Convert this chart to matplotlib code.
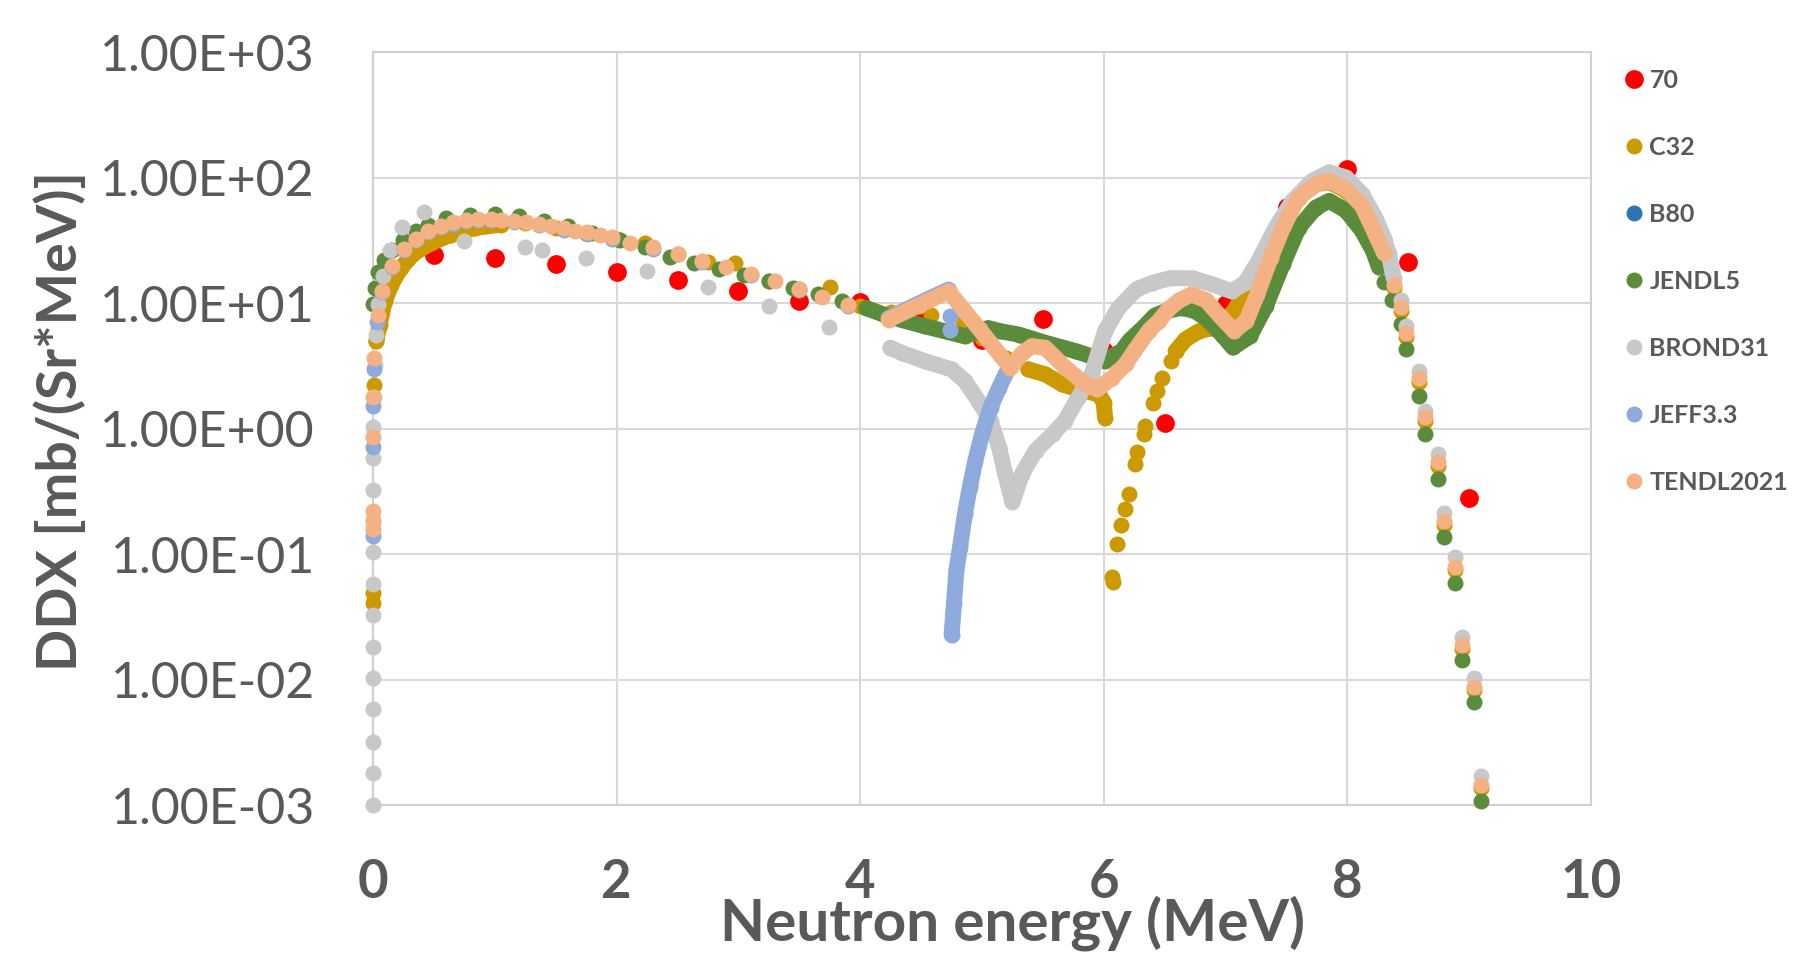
import matplotlib

matplotlib.use("Agg")

import matplotlib.pyplot as plt
from matplotlib.lines import Line2D
from matplotlib.ticker import FixedLocator, FuncFormatter, NullLocator

plt.rcParams["font.family"] = ["Lato", "DejaVu Sans"]

TEXT = "#595959"
GRID = "#D9D9D9"

# --- experimental points (70) ---
EXP_X = [0.5, 1.0, 1.5, 2.0, 2.5, 3.0, 3.5, 4.0, 4.5, 5.0, 5.5, 6.0, 6.5, 7.0, 7.5, 8.0, 8.5, 9.0]
EXP_Y = [24.2, 22.7, 20.4, 17.5, 15.2, 12.5, 10.3, 10.1, 8.5, 5.1, 7.5, 4.15, 1.1, 9.8, 57.7, 116.0, 21.3, 0.277]

# --- C32 ---
C32_X = [0.0, 0.0, 0.008, 1.25, 1.5, 1.75, 2.0, 2.23, 2.5, 2.75, 2.97, 3.25, 3.5, 3.75, 4.0,
         4.25, 4.58, 4.84, 5.0, 5.2, 6.068, 6.075, 6.11, 6.142, 6.178, 6.211, 6.26, 6.274,
         6.33, 6.342, 6.405, 6.438, 6.48, 6.548, 6.589]
C32_Y = [0.041, 0.049, 2.23, 43.7, 39.8, 35.9, 32.4, 30.3, 24.5, 21.4, 21.0, 15.1, 12.9, 13.3, 9.44,
         8.51, 8.07, 6.92, 5.25, 3.63, 0.0656, 0.060, 0.121, 0.169, 0.229, 0.301, 0.521, 0.646,
         0.902, 1.05, 1.61, 2.0, 2.54, 3.44, 4.13]
C32_LOW_X = [0.027, 0.055, 0.096, 0.15, 0.23, 0.34, 0.48, 0.64, 0.835, 1.05]
C32_LOW_Y = [4.94, 6.71, 10.3, 14.0, 19.1, 25.1, 30.1, 35.1, 39.6, 42.2]
C32_MID_X = [5.38, 5.52, 5.66, 5.79, 5.96, 6.0, 6.01]
C32_MID_Y = [2.96, 2.70, 2.25, 2.05, 1.87, 1.61, 1.22]
C32_HIGH_X = [6.589, 6.67, 6.78, 6.89, 7.0, 7.08, 7.16, 7.24, 7.35, 7.47, 7.6, 7.74, 7.85, 7.99,
              8.12, 8.23, 8.30]
C32_HIGH_Y = [4.13, 5.12, 5.96, 6.31, 7.24, 8.91, 12.6, 15.5, 25.1, 43.7, 69.2, 88.1, 92.3, 78.5,
              57.5, 34.3, 24.3]
C32_TAIL_X = [8.38, 8.44, 8.48, 8.59, 8.64, 8.74, 8.79, 8.88, 8.94, 9.04, 9.10]
C32_TAIL_Y = [13.1, 8.63, 5.37, 2.36, 1.15, 0.505, 0.17, 0.0741, 0.0176, 0.0082, 0.00136]

# --- B80 (no visible points) ---
B80_X = []
B80_Y = []

# --- JENDL5 ---
JENDL_X = [0.0, 0.02, 0.045, 0.09, 0.16, 0.25, 0.35, 0.45, 0.6, 0.8, 1.0, 1.2, 1.4, 1.6, 1.8,
           2.03, 2.233, 2.44, 2.637, 2.84, 3.05, 3.25, 3.45, 3.65, 3.85]
JENDL_Y = [9.77, 13.2, 17.8, 21.9, 26.3, 31.6, 37.2, 41.7, 47.3, 50.7, 51.3, 49.5, 45.2, 40.7, 36.3,
           31.6, 27.7, 23.3, 21.0, 18.8, 16.8, 14.9, 13.2, 11.8, 10.4]
JENDL_TRACE_X = [4.05, 4.23, 4.53, 4.86, 4.95, 5.05, 5.15, 5.30, 5.52, 5.77, 6.01, 6.15, 6.21, 6.32,
                 6.42, 6.51, 6.64, 6.75, 6.84, 6.97, 7.06, 7.20, 7.33, 7.47, 7.60, 7.74, 7.85, 7.99,
                 8.12, 8.21, 8.26]
JENDL_TRACE_Y = [9.12, 7.83, 6.53, 5.43, 5.89, 6.31, 5.96, 5.61, 4.82, 4.13, 3.47, 4.17, 5.01, 6.31,
                 7.94, 8.61, 9.18, 8.61, 7.53, 5.60, 4.42, 5.43, 9.44, 20.4, 39.8, 57.5, 65.2, 54.3,
                 37.7, 26.1, 19.2]
JENDL_TAIL_X = [8.30, 8.37, 8.44, 8.48, 8.59, 8.64, 8.74, 8.79, 8.88, 8.94, 9.04, 9.10]
JENDL_TAIL_Y = [14.6, 10.5, 6.81, 4.27, 1.83, 0.912, 0.398, 0.136, 0.0592, 0.0144, 0.00656, 0.00108]

# --- BROND31 ---
BROND_X = [0.0, 0.0, 0.0, 0.0, 0.0, 0.0, 0.0, 0.0, 0.0, 0.0, 0.0, 0.0, 0.0, 0.01, 0.02, 0.027,
           0.04, 0.082, 0.137, 0.24, 0.42, 0.75, 1.245, 1.39, 1.745, 2.25, 2.75, 3.25, 3.745]
BROND_Y = [0.001, 0.0018, 0.0032, 0.0058, 0.0103, 0.0182, 0.0325, 0.0574, 0.103, 0.18, 0.324, 0.58,
           1.02, 1.78, 3.2, 5.6, 9.8, 16.3, 26.6, 40.0, 53.0, 31.0, 27.8, 26.3, 22.8, 17.9, 13.5,
           9.5, 6.4]
BROND_TRACE_X = [4.247, 4.34, 4.53, 4.75, 4.86, 4.97, 5.07, 5.14, 5.19, 5.25, 5.33, 5.44, 5.58,
                 5.68, 5.79, 5.90, 6.01, 6.12, 6.27, 6.40, 6.55, 6.73, 6.89, 7.05, 7.16, 7.27, 7.41,
                 7.55, 7.71, 7.85, 7.99, 8.12, 8.23, 8.30, 8.34, 8.38]
BROND_TRACE_Y = [4.40, 4.01, 3.44, 2.96, 2.39, 1.66, 1.15, 0.708, 0.437, 0.259, 0.437, 0.665, 0.902,
                 1.15, 1.76, 2.70, 5.96, 9.12, 12.9, 14.5, 15.8, 15.7, 14.1, 12.4, 14.5, 21.6, 39.8,
                 65.2, 94.0, 110.0, 100.0, 73.6, 47.9, 33.1, 24.5, 15.8]
BROND_TAIL_X = [8.44, 8.48, 8.59, 8.64, 8.74, 8.79, 8.88, 8.94, 9.04, 9.10]
BROND_TAIL_Y = [10.5, 6.6, 2.86, 1.39, 0.631, 0.214, 0.0955, 0.0219, 0.0102, 0.0017]

# --- JEFF3.3 ---
JEFF_X = [0.0, 0.0, 0.003, 0.008, 0.035, 0.075, 0.16, 0.258, 0.35, 0.454, 0.557, 0.66, 0.76,
          0.865, 0.967, 1.157, 1.363, 1.568, 1.758, 1.963, 2.3, 2.705, 3.106, 3.5, 3.9, 4.74, 4.74]
JEFF_Y = [0.139, 0.71, 1.5, 3.0, 7.0, 12.2, 19.4, 26.3, 31.6, 36.8, 40.3, 42.9, 44.7,
          45.5, 45.5, 44.1, 41.6, 38.5, 35.7, 32.6, 27.1, 21.2, 16.6, 12.6, 9.5, 7.83, 6.14]
JEFF_HI_X = [4.233, 4.48, 4.726]
JEFF_HI_Y = [7.6, 9.9, 12.8]
JEFF_RISE_X = [4.75, 4.77, 4.79, 4.82, 4.86, 4.90, 4.945, 5.0, 5.07, 5.14, 5.22]
JEFF_RISE_Y = [0.0226, 0.0404, 0.0741, 0.114, 0.209, 0.340, 0.553, 0.902, 1.47, 2.11, 3.05]

# --- TENDL2021 ---
TENDL_X = [0.0, 0.0, 0.0, 0.0, 0.004, 0.012, 0.04, 0.075, 0.16, 0.258, 0.35, 0.454, 0.557, 0.66,
           0.76, 0.865, 0.967, 1.055, 1.157, 1.26, 1.363, 1.465, 1.568, 1.656, 1.758, 1.86, 1.963,
           2.11, 2.3, 2.505, 2.705, 2.9, 3.106, 3.297, 3.5, 3.69, 3.9]
TENDL_Y = [0.158, 0.186, 0.219, 0.86, 1.77, 3.63, 8.07, 12.5, 19.8, 26.9, 32.3, 37.6, 41.2, 43.8,
           45.7, 46.5, 46.5, 45.7, 45.1, 43.8, 42.5, 41.2, 39.4, 37.6, 36.5, 34.9, 33.3,
           30.3, 27.7, 24.5, 21.7, 19.5, 17.0, 15.0, 12.9, 11.1, 9.7]
TENDL_TRACE_X = [4.233, 4.48, 4.726, 4.98, 5.233, 5.33, 5.41, 5.52, 5.685, 5.85, 5.945, 6.07, 6.18,
                 6.26, 6.37, 6.45, 6.53, 6.62, 6.72, 6.84, 6.95, 7.07, 7.17, 7.26, 7.37, 7.48, 7.60,
                 7.74, 7.85, 7.99, 8.12, 8.23, 8.30]
TENDL_TRACE_Y = [7.38, 9.55, 12.4, 6.17, 3.05, 3.98, 4.53, 4.40, 3.05, 2.25, 2.05, 2.54, 3.27,
                 4.27, 6.03, 7.14, 8.91, 10.5, 11.7, 10.5, 7.94, 5.98, 7.19, 11.7, 22.9, 41.7, 69.2,
                 88.5, 94.0, 80.7, 59.6, 35.4, 25.1]
TENDL_TAIL_X = [8.38, 8.44, 8.48, 8.59, 8.64, 8.74, 8.79, 8.88, 8.94, 9.04, 9.10]
TENDL_TAIL_Y = [14.0, 9.25, 5.75, 2.53, 1.23, 0.541, 0.182, 0.0794, 0.0189, 0.00879, 0.00145]

NAMES = ["70", "C32", "B80", "JENDL5", "BROND31", "JEFF3.3", "TENDL2021"]
COLORS = ["#FF0000", "#CC9900", "#2E75B6", "#5B8C3C", "#C8C8C8", "#8FAADC", "#F4B183"]

# dots / dense traces per series, in drawing order
SERIES = [
    ([(EXP_X, EXP_Y)], []),
    ([(C32_X, C32_Y), (C32_TAIL_X, C32_TAIL_Y)],
     [(C32_LOW_X, C32_LOW_Y), (C32_MID_X, C32_MID_Y), (C32_HIGH_X, C32_HIGH_Y)]),
    ([(B80_X, B80_Y)], []),
    ([(JENDL_X, JENDL_Y), (JENDL_TAIL_X, JENDL_TAIL_Y)], [(JENDL_TRACE_X, JENDL_TRACE_Y)]),
    ([(BROND_X, BROND_Y), (BROND_TAIL_X, BROND_TAIL_Y)], [(BROND_TRACE_X, BROND_TRACE_Y)]),
    ([(JEFF_X, JEFF_Y)], [(JEFF_HI_X, JEFF_HI_Y), (JEFF_RISE_X, JEFF_RISE_Y)]),
    ([(TENDL_X, TENDL_Y), (TENDL_TAIL_X, TENDL_TAIL_Y)], [(TENDL_TRACE_X, TENDL_TRACE_Y)]),
]

DOT = 11.5      # marker diameter, points
EXP_DOT = 13.5

fig = plt.figure(figsize=(17.99, 9.55), dpi=100)
ax = fig.add_axes([373 / 1799, 150 / 955, 1218 / 1799, 753 / 955])

for i, ((dots, traces), color) in enumerate(zip(SERIES, COLORS)):
    size = EXP_DOT if i == 0 else DOT
    z = 3 + i
    for x, y in traces:
        ax.plot(x, y, ls="-", lw=size, color=color, solid_capstyle="round",
                solid_joinstyle="round", clip_on=False, zorder=z)
        ax.plot(x, y, ls="none", marker="o", ms=size, mfc=color, mec="none",
                clip_on=False, zorder=z)
    for x, y in dots:
        ax.plot(x, y, ls="none", marker="o", ms=size, mfc=color, mec="none",
                clip_on=False, zorder=z)

ax.set_yscale("log")
ax.set_xlim(0, 10)
ax.set_ylim(1e-3, 1e3)
ax.xaxis.set_major_locator(FixedLocator([0, 2, 4, 6, 8, 10]))
ax.yaxis.set_major_locator(FixedLocator([1e-3, 1e-2, 1e-1, 1e0, 1e1, 1e2, 1e3]))
ax.yaxis.set_minor_locator(NullLocator())
ax.yaxis.set_major_formatter(FuncFormatter(lambda v, p: f"{v:.2E}"))

ax.grid(True, color=GRID, lw=1.5)
ax.set_axisbelow(True)
for sp in ax.spines.values():
    sp.set_color("#D0D0D0")
    sp.set_linewidth(1.5)

ax.tick_params(axis="both", length=0, colors=TEXT)
ax.tick_params(axis="y", labelsize=36, pad=42)
ax.tick_params(axis="x", labelsize=38, pad=38)
for lab in ax.get_xticklabels():
    lab.set_fontweight("bold")

ax.set_xlabel("Neutron energy (MeV)", fontsize=42, fontweight="bold", color=TEXT)
ax.xaxis.label.set_va("baseline")
ax.xaxis.set_label_coords(0.525, -0.1795)

ax.set_ylabel("DDX [mb/(Sr*MeV)]", fontsize=40, fontweight="bold", color=TEXT)
ax.yaxis.label.set_va("center")
ax.yaxis.set_label_coords(-0.257, 0.51)

handles = [Line2D([], [], ls="none", marker="o", ms=(EXP_DOT if n == "70" else DOT),
                  mfc=c, mec="none") for n, c in zip(NAMES, COLORS)]
fig.legend(handles, NAMES, loc="upper left", bbox_to_anchor=(1627 / 1799, 1 - 69 / 955),
           frameon=False, prop=dict(weight="bold", size=18), labelcolor=TEXT,
           handlelength=0.6, handletextpad=0.3, labelspacing=1.76, borderpad=0,
           borderaxespad=0)

fig.savefig("out.png", dpi=100)
plt.close(fig)
